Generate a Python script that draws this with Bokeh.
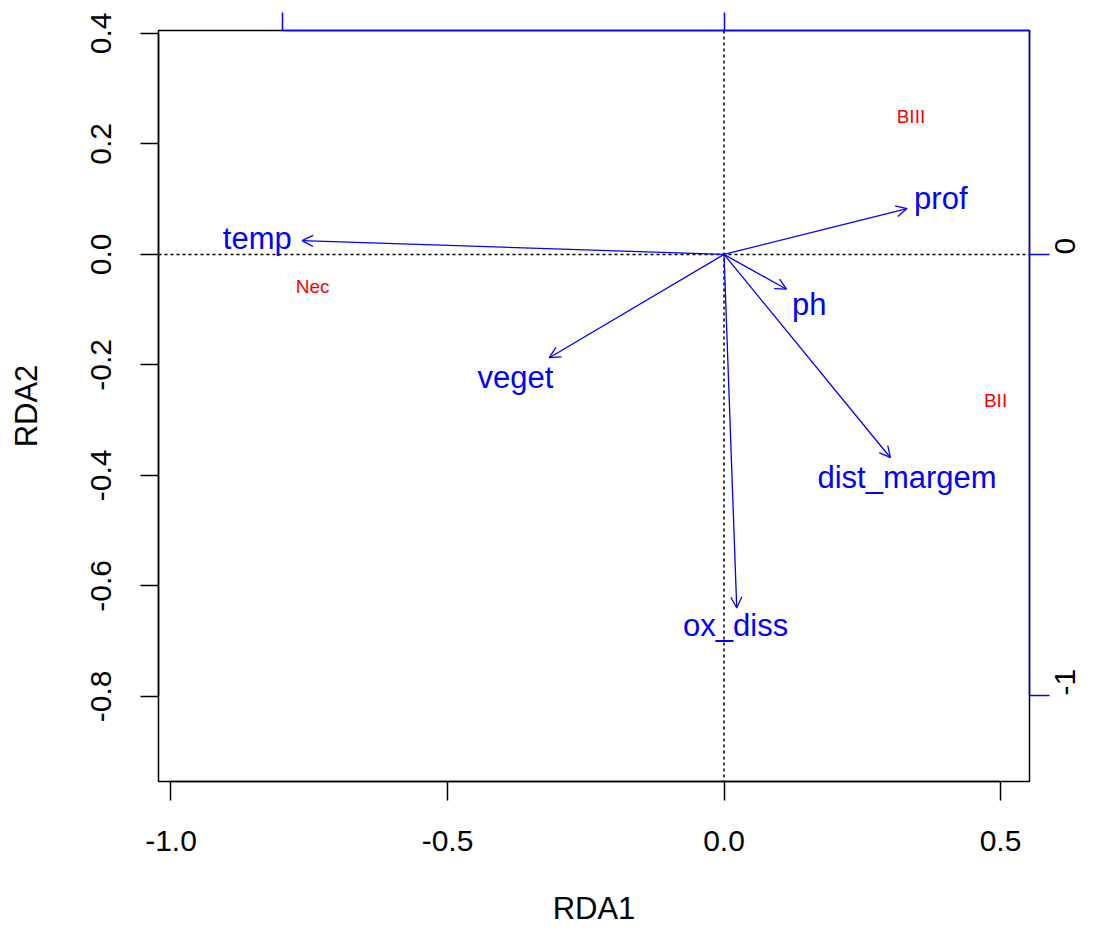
from math import pi
from bokeh.plotting import figure
from bokeh.models import (Range1d, LinearAxis, FixedTicker, Span, Arrow, OpenHead,
                          ColumnDataSource)
from bokeh.core.properties import value
from bokeh.embed import file_html
from bokeh.resources import INLINE

# ---------------- data ----------------
# biplot arrows (environmental variables), tips in RDA1/RDA2 units
var_names = ["temp", "prof", "ph", "veget", "dist_margem", "ox_diss"]
arrow_x = [-0.763, 0.331, 0.113, -0.316, 0.301, 0.023]
arrow_y = [0.025, 0.083, -0.063, -0.187, -0.368, -0.640]
# label positions of the arrows (text centres)
label_x = [-0.844, 0.392, 0.154, -0.377, 0.331, 0.021]
label_y = [0.028, 0.101, -0.090, -0.223, -0.403, -0.671]

# centroids (factor levels)
cent_names = ["BIII", "Nec", "BII"]
cent_x = [0.338, -0.744, 0.491]
cent_y = [0.249, -0.058, -0.264]

# axes
x_lim = (-1.0226, 0.5524)
y_lim = (-0.954, 0.4052)
x_ticks = [-1.0, -0.5, 0.0, 0.5]
x_tick_labels = ["-1.0", "-0.5", "0.0", "0.5"]
y_ticks = [-0.8, -0.6, -0.4, -0.2, 0.0, 0.2, 0.4]
y_tick_labels = ["-0.8", "-0.6", "-0.4", "-0.2", "0.0", "0.2", "0.4"]
arrow_mult = 0.7985          # scale of the biplot arrows (secondary axes)
sec_ticks = [-1, 0]
sec_tick_labels = ["-1", "0"]

FONT = "Liberation Sans"

p = figure(width=1089, height=928,
           x_range=Range1d(*x_lim), y_range=Range1d(*y_lim),
           output_backend="svg", toolbar_location=None,
           min_border_left=158, min_border_right=60,
           min_border_top=30, min_border_bottom=145)
p.extra_x_ranges = {"arrow": Range1d(x_lim[0] / arrow_mult, x_lim[1] / arrow_mult)}
p.extra_y_ranges = {"arrow": Range1d(y_lim[0] / arrow_mult, y_lim[1] / arrow_mult)}

p.xgrid.visible = False
p.ygrid.visible = False
p.outline_line_color = "black"
p.outline_line_width = 1.5
p.background_fill_color = "white"
p.border_fill_color = "white"

def style_axis(ax, color="black"):
    ax.axis_line_color = color
    ax.axis_line_width = 1.5
    ax.major_tick_line_color = color
    ax.major_tick_line_width = 1.5
    ax.minor_tick_line_color = None
    ax.major_tick_in = 0
    ax.major_label_text_font = FONT
    ax.major_label_text_color = "black"
    ax.axis_label_text_font = FONT
    ax.axis_label_text_font_style = "normal"
    ax.axis_label_text_color = "black"

xa = p.xaxis[0]
style_axis(xa)
xa.ticker = FixedTicker(ticks=x_ticks)
xa.major_label_overrides = dict(zip(x_ticks, x_tick_labels))
xa.bounds = (x_ticks[0], x_ticks[-1])
xa.major_tick_out = 19
xa.major_label_standoff = 30
xa.major_label_text_font_size = "30px"
xa.axis_label = "RDA1"
xa.axis_label_text_font_size = "31px"
xa.axis_label_standoff = 37

ya = p.yaxis[0]
style_axis(ya)
ya.ticker = FixedTicker(ticks=y_ticks)
ya.major_label_overrides = dict(zip(y_ticks, y_tick_labels))
ya.bounds = (y_ticks[0], y_ticks[-1])
ya.major_tick_out = 18
ya.major_label_standoff = 29
ya.major_label_text_font_size = "30px"
ya.major_label_orientation = "parallel"
ya.axis_label = "RDA2"
ya.axis_label_text_font_size = "31px"
ya.axis_label_standoff = 45

top = LinearAxis(x_range_name="arrow", ticker=FixedTicker(ticks=sec_ticks))
style_axis(top, "blue")
top.bounds = (sec_ticks[0], x_lim[1] / arrow_mult)
top.major_tick_out = 18
top.major_label_standoff = 0
top.major_label_overrides = {t: "" for t in sec_ticks}
p.add_layout(top, "above")

right = LinearAxis(y_range_name="arrow", ticker=FixedTicker(ticks=sec_ticks))
style_axis(right, "blue")
right.bounds = (sec_ticks[0], y_lim[1] / arrow_mult)
right.major_tick_out = 20
right.major_label_standoff = 16
right.major_label_text_font_size = "30px"
right.major_label_orientation = pi / 2
right.major_label_overrides = dict(zip(sec_ticks, sec_tick_labels))
p.add_layout(right, "right")

# reference lines
p.add_layout(Span(location=0, dimension="width", line_color="black",
                  line_dash="3 3", line_width=1.5))
p.add_layout(Span(location=0, dimension="height", line_color="black",
                  line_dash="3 3", line_width=1.5))

# arrows
src = ColumnDataSource(dict(x0=[0] * len(arrow_x), y0=[0] * len(arrow_y),
                            x1=arrow_x, y1=arrow_y))
p.add_layout(Arrow(end=OpenHead(size=11, line_color="blue", line_width=1.3),
                   x_start="x0", y_start="y0", x_end="x1", y_end="y1",
                   source=src, line_color="blue", line_width=1.3))

lab_src = ColumnDataSource(dict(x=label_x, y=label_y, t=var_names))
p.text(x="x", y="y", text="t", source=lab_src, text_color="blue",
       text_font=value(FONT), text_font_size="31px",
       text_align="center", text_baseline="middle")

cen_src = ColumnDataSource(dict(x=cent_x, y=cent_y, t=cent_names))
p.text(x="x", y="y", text="t", source=cen_src, text_color="red",
       text_font=value(FONT), text_font_size="19px",
       text_align="center", text_baseline="middle")

open("out.html", "w").write(file_html(p, INLINE))
